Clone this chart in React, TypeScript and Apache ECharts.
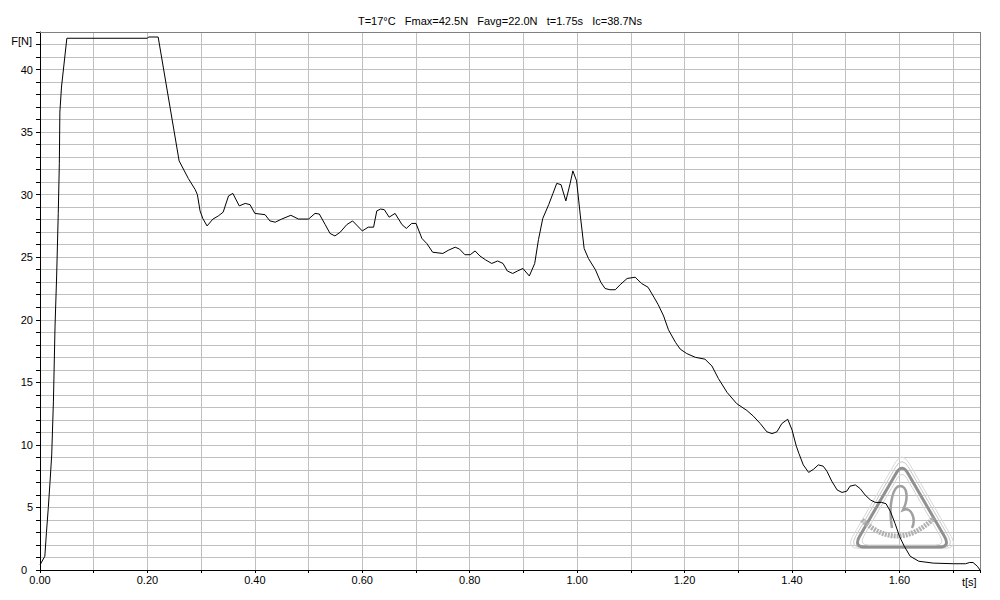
import React, { useEffect, useRef } from "react";
import * as echarts from "echarts";

// ---- Data ----
const titleText = "T=17°C   Fmax=42.5N   Favg=22.0N   t=1.75s   Ic=38.7Ns";
const xAxisName = "t[s]";
const yAxisName = "F[N]";

const tValues = [
  0, 0.009, 0.012, 0.0155, 0.0186, 0.0218, 0.025, 0.028, 0.031, 0.034, 0.036, 0.037, 0.04, 0.05,
  0.2, 0.202, 0.22, 0.259, 0.276, 0.289, 0.293, 0.298, 0.303, 0.311, 0.322, 0.332, 0.341, 0.351,
  0.359, 0.371, 0.382, 0.391, 0.4, 0.419, 0.428, 0.438, 0.45, 0.467, 0.481, 0.5, 0.512, 0.52,
  0.531, 0.54, 0.549, 0.559, 0.571, 0.582, 0.591, 0.6, 0.611, 0.621, 0.627, 0.634, 0.641, 0.65,
  0.661, 0.674, 0.682, 0.692, 0.7, 0.711, 0.72, 0.731, 0.75, 0.76, 0.773, 0.781, 0.791, 0.801,
  0.81, 0.819, 0.829, 0.841, 0.852, 0.862, 0.87, 0.88, 0.889, 0.899, 0.911, 0.921, 0.928, 0.936,
  0.947, 0.955, 0.962, 0.97, 0.979, 0.987, 0.992, 0.999, 1.006, 1.013, 1.021, 1.034, 1.044, 1.052,
  1.061, 1.071, 1.08, 1.093, 1.108, 1.12, 1.132, 1.143, 1.151, 1.161, 1.17, 1.183, 1.192, 1.204,
  1.22, 1.238, 1.251, 1.263, 1.279, 1.297, 1.316, 1.328, 1.341, 1.353, 1.363, 1.372, 1.381, 1.392,
  1.4, 1.408, 1.413, 1.421, 1.431, 1.44, 1.449, 1.458, 1.465, 1.474, 1.484, 1.493, 1.502, 1.508,
  1.518, 1.527, 1.536, 1.546, 1.555, 1.567, 1.575, 1.583, 1.592, 1.6, 1.609, 1.62, 1.636, 1.663,
  1.701, 1.723, 1.731, 1.737, 1.745, 1.75,
];
const fValues = [
  0.4, 1.1, 3.0, 5.0, 7.0, 9.2, 13.5, 19.5, 23.5, 28.5, 32.5, 36.6, 38.6, 42.5,
  42.5, 42.6, 42.6, 32.7, 31.3, 30.4, 30.0, 28.7, 28.1, 27.5, 28.05, 28.3, 28.6, 29.9,
  30.1, 29.1, 29.3, 29.2, 28.5, 28.4, 27.9, 27.8, 28.05, 28.35, 28.05, 28.05, 28.5, 28.45,
  27.6, 26.9, 26.7, 27.0, 27.6, 27.9, 27.5, 27.1, 27.4, 27.4, 28.7, 28.85, 28.8, 28.2,
  28.5, 27.6, 27.3, 27.7, 27.7, 26.5, 26.1, 25.4, 25.3, 25.55, 25.8, 25.65, 25.2, 25.2,
  25.5, 25.1, 24.8, 24.5, 24.7, 24.5, 23.9, 23.7, 23.9, 24.1, 23.5, 24.5, 26.4, 28.1,
  29.2, 30.1, 30.9, 30.8, 29.5, 30.9, 31.9, 31.1, 28.3, 25.7, 24.9, 24.0, 23.0, 22.5,
  22.4, 22.4, 22.8, 23.3, 23.4, 22.9, 22.6, 21.8, 21.2, 20.3, 19.2, 18.2, 17.65, 17.3,
  17.0, 16.85, 16.3, 15.3, 14.2, 13.3, 12.75, 12.3, 11.7, 11.05, 10.9, 11.05, 11.7, 12.05,
  11.2, 9.9, 9.3, 8.4, 7.8, 8.05, 8.4, 8.3, 7.9, 7.1, 6.4, 6.2, 6.3, 6.7,
  6.8, 6.5, 6.0, 5.6, 5.4, 5.4, 5.3, 4.7, 3.7, 2.7, 1.9, 1.1, 0.7, 0.55,
  0.5, 0.5, 0.6, 0.6, 0.3, 0.0,
];

// ---- Watermark shapes ----
function roundedTri(cx: number, cy: number, R: number, d: number): string {
  const A = [cx, cy - R];
  const B = [cx + 0.866 * R, cy + 0.5 * R];
  const C = [cx - 0.866 * R, cy + 0.5 * R];
  const L = 1.732 * R;
  const t = d / L;
  const lerp = (P: number[], Q: number[], k: number) => [P[0] + (Q[0] - P[0]) * k, P[1] + (Q[1] - P[1]) * k];
  const a1 = lerp(A, B, t);
  const b0 = lerp(B, A, t);
  const b1 = lerp(B, C, t);
  const c0 = lerp(C, B, t);
  const c1 = lerp(C, A, t);
  const a0 = lerp(A, C, t);
  const f = (p: number[]) => `${p[0].toFixed(2)} ${p[1].toFixed(2)}`;
  return `M ${f(a1)} L ${f(b0)} Q ${f(B)} ${f(b1)} L ${f(c0)} Q ${f(C)} ${f(c1)} L ${f(a0)} Q ${f(A)} ${f(a1)} Z`;
}

echarts.graphic.registerShape("wmOuter1", echarts.graphic.extendPath(roundedTri(902, 516, 65, 14), {}) as any);
echarts.graphic.registerShape("wmOuter2", echarts.graphic.extendPath(roundedTri(902, 517, 61, 13), {}) as any);
echarts.graphic.registerShape("wmMain", echarts.graphic.extendPath(roundedTri(902, 519, 56, 12), {}) as any);
echarts.graphic.registerShape("wmInner", echarts.graphic.extendPath(roundedTri(902, 520, 50, 10), {}) as any);
echarts.graphic.registerShape(
  "wmBeta",
  echarts.graphic.extendPath(
    "M 892 528 C 888 505 893 486 900 486 C 907 486 909 498 903 510 C 912 506 916 520 912 528",
    {}
  ) as any
);
echarts.graphic.registerShape(
  "wmBand",
  echarts.graphic.extendPath("M 862 520 Q 898 553 934 518", {}) as any
);

export default function App() {
  const ref = useRef<HTMLDivElement>(null);

  useEffect(() => {
    if (!ref.current) return;
    const chart = echarts.init(ref.current, null, { renderer: "svg" });
    const font = "'Liberation Sans', Arial, sans-serif";
    const data = tValues.map((t, i) => [t, fValues[i]]);

    const option: any = {
      animation: false,
      backgroundColor: "#ffffff",
      title: {
        text: titleText,
        left: "center",
        top: 10,
        textStyle: { fontSize: 11, fontWeight: "normal", color: "#000", fontFamily: font },
      },
      grid: { left: 40, right: 20, top: 32, bottom: 30, show: false },
      xAxis: {
        type: "value",
        min: 0,
        max: 1.75,
        interval: 0.1,
        axisLine: { show: true, lineStyle: { color: "#000", width: 1 } },
        axisTick: { show: true, length: 3, lineStyle: { color: "#000" } },
        axisLabel: {
          color: "#000",
          fontSize: 11,
          fontFamily: font,
          margin: 4,
          formatter: (v: number) => (Math.round(v * 100) % 20 === 0 ? v.toFixed(2) : ""),
        },
        splitLine: { show: true, lineStyle: { color: "#c0c0c0", width: 1 } },
      },
      yAxis: {
        type: "value",
        min: 0,
        max: 43,
        interval: 1,
        axisLine: { show: true, lineStyle: { color: "#000", width: 1 } },
        axisTick: { show: true, length: 4, lineStyle: { color: "#000" } },
        axisLabel: {
          color: "#000",
          fontSize: 11,
          fontFamily: font,
          margin: 7,
          formatter: (v: number) =>
            v === 0 ? "{z|0}" : v % 5 === 0 && v <= 40 ? String(v) : "",
          rich: {
            z: { fontSize: 11, fontFamily: font, color: "#000", padding: [0, 6, 0, 0] },
          },
        },
        splitLine: { show: true, lineStyle: { color: "#c0c0c0", width: 1 } },
      },
      graphic: [
        { type: "line", z: 5, shape: { x1: 40, y1: 32.5, x2: 980.5, y2: 32.5 }, style: { stroke: "#808080", lineWidth: 1 } },
        { type: "line", z: 5, shape: { x1: 980.5, y1: 32, x2: 980.5, y2: 570 }, style: { stroke: "#808080", lineWidth: 1 } },
        {
          type: "text",
          z: 5,
          x: 32,
          y: 41,
          style: { text: yAxisName, fill: "#000", font: `11px ${font}`, textAlign: "right", textVerticalAlign: "middle" },
        },
        {
          type: "text",
          z: 5,
          x: 962,
          y: 582,
          style: { text: xAxisName, fill: "#000", font: `11px ${font}`, textAlign: "left", textVerticalAlign: "middle" },
        },
        { type: "wmOuter1", z: 1, style: { fill: "none", stroke: "#d8d8d8", lineWidth: 1 } },
        { type: "wmOuter2", z: 1, style: { fill: "none", stroke: "#c8c8c8", lineWidth: 1 } },
        { type: "wmMain", z: 1, style: { fill: "none", stroke: "#909090", lineWidth: 3 } },
        { type: "wmInner", z: 1, style: { fill: "none", stroke: "#d4d4d4", lineWidth: 1 } },
        { type: "wmBeta", z: 1, style: { fill: "none", stroke: "#a0a0a0", lineWidth: 2.5 } },
        { type: "wmBand", z: 1, style: { fill: "none", stroke: "#b0b0b0", lineWidth: 5, lineDash: [2, 1] } },
      ],
      series: [
        {
          type: "line",
          data,
          z: 3,
          showSymbol: false,
          symbol: "none",
          smooth: false,
          lineStyle: { color: "#000", width: 1 },
        },
      ],
    };
    chart.setOption(option);
    return () => chart.dispose();
  }, []);

  return (
    <div
      ref={ref}
      style={{ position: "fixed", left: 0, top: 0, width: 1000, height: 600, background: "#fff" }}
    />
  );
}
